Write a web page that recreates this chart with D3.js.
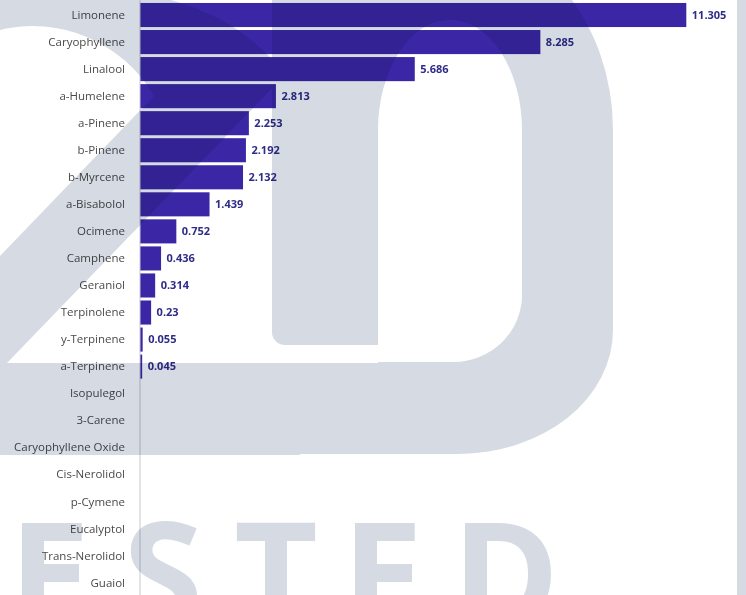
<!DOCTYPE html>
<html>
<head>
<meta charset="utf-8">
<script src="https://cdn.jsdelivr.net/npm/d3@7/dist/d3.min.js"></script>
<style>
  html, body { margin: 0; padding: 0; background: #fff; }
  svg { display: block; }
</style>
</head>
<body>
<svg id="chart" width="746" height="595"></svg>
<script>
// Terpene profile, horizontal bars sorted by value
const categories = [
    'Limonene', 'Caryophyllene', 'Linalool', 'a-Humelene', 'a-Pinene',
    'b-Pinene', 'b-Myrcene', 'a-Bisabolol', 'Ocimene', 'Camphene',
    'Geraniol', 'Terpinolene', 'y-Terpinene', 'a-Terpinene', 'Isopulegol',
    '3-Carene', 'Caryophyllene Oxide', 'Cis-Nerolidol', 'p-Cymene',
    'Eucalyptol', 'Trans-Nerolidol', 'Guaiol'
]
const values = [
    11.305, 8.285, 5.686, 2.813, 2.253,
    2.192, 2.132, 1.439, 0.752, 0.436,
    0.314, 0.23, 0.055, 0.045, 0,
    0, 0, 0, 0,
    0, 0, 0
]

const W = 746
const H = 595
const AXIS_X = 140
const BAR_COLOR = '#3b27a6'
const LABEL_COLOR = '#2f2c88'
const WM_COLOR = '#d5dae3'

const rows = categories.map((c, i) => ({ name: c, value: values[i] }))

const svg = d3.select('#chart')
svg.append('rect').attr('width', W).attr('height', H).attr('fill', '#fff')

const x = d3.scaleLinear()
    .domain([0, d3.max(values)])
    .range([AXIS_X, 686.3])

const y = d3.scaleBand()
    .domain(categories)
    .range([0, 598])
    .paddingInner(0.11)
    .paddingOuter(0.11)

// Bars
svg.append('g')
    .selectAll('rect')
    .data(rows.filter(d => d.value > 0))
    .join('rect')
    .attr('x', x(0))
    .attr('y', d => y(d.name))
    .attr('width', d => x(d.value) - x(0))
    .attr('height', y.bandwidth())
    .attr('fill', BAR_COLOR)

// Value labels
svg.append('g')
    .selectAll('text')
    .data(rows.filter(d => d.value > 0))
    .join('text')
    .attr('x', d => x(d.value) + 5.5)
    .attr('y', d => y(d.name) + y.bandwidth() / 2)
    .attr('dy', '0.35em')
    .style('font-family', '"Open Sans", sans-serif')
    .style('font-size', '11px')
    .style('font-weight', 'bold')
    .style('fill', LABEL_COLOR)
    .text(d => String(d.value))

// Category axis
const yAxis = svg.append('g')
    .attr('transform', `translate(${AXIS_X - 0.5},0)`)
    .call(d3.axisLeft(y).tickSize(0).tickSizeOuter(0).tickPadding(14.5))

yAxis.select('.domain')
    .attr('stroke', '#c6c9d1')
    .attr('stroke-width', 1)
yAxis.selectAll('text')
    .style('font-family', '"Open Sans", sans-serif')
    .style('font-size', '11.5px')
    .style('fill', '#4a4a4a')

// ---------------------------------------------------------------
// Background watermark ("20" / "ESTED"), multiplied over the chart
// ---------------------------------------------------------------
const wm = svg.append('g').style('mix-blend-mode', 'multiply')

// the "2": hook + diagonal + base, with the open counter cut out
wm.append('path')
    .attr('d', 'M0,-5 H150 C215,8 262,40 284,76 L7,363 H300 V455 H0 Z')
    .attr('fill', WM_COLOR)
wm.append('path')
    .attr('d', 'M0,30 A140,140 0 0 1 154,96 L0,256 Z')
    .attr('fill', '#fff')

// the "0"
wm.append('path')
    .attr('d', 'M272,-70 H442 A171,200 0 0 1 613,130 V330 A155,124 0 0 1 458,454 H272 Z')
    .attr('fill', WM_COLOR)
wm.append('path')
    .attr('d', 'M378,362 V130 A72,110 0 0 1 522,130 V295 A69,67 0 0 1 453,362 Z')
    .attr('fill', '#fff')
wm.append('path')
    .attr('d', 'M272,363 V332 A13,13 0 0 0 285,345 H378 V363 Z')
    .attr('fill', '#fff')

// edge of the next glyph on the right
wm.append('rect')
    .attr('x', 737).attr('y', 0)
    .attr('width', 20).attr('height', H)
    .attr('fill', WM_COLOR)

wm.append('text')
    .attr('x', '9 123 234 342 452')
    .attr('y', 627)
    .style('font-family', '"Open Sans", sans-serif')
    .style('font-size', '145px')
    .style('font-weight', 'bold')
    .style('fill', WM_COLOR)
    .text('ESTED')
</script>
</body>
</html>
